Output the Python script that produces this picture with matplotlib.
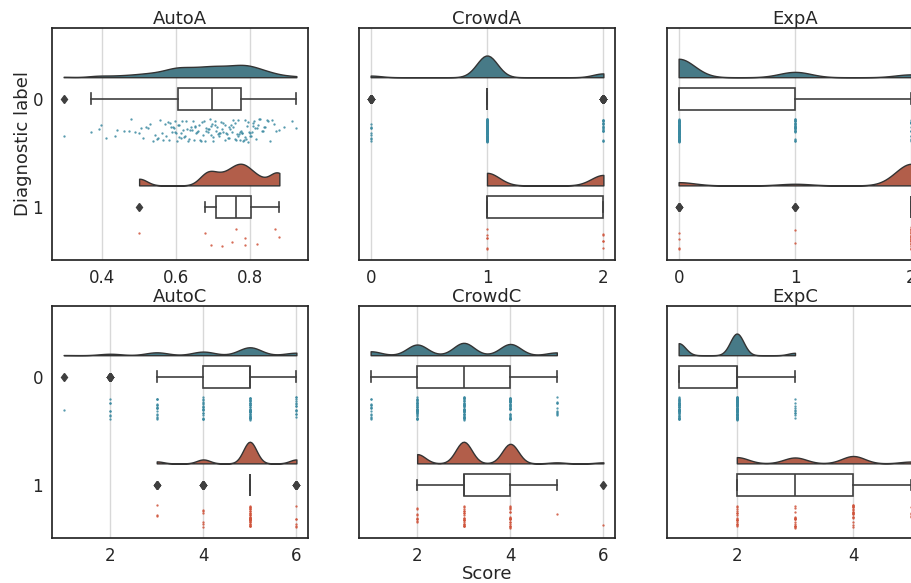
import numpy as np
import matplotlib
matplotlib.use("Agg")
import matplotlib.pyplot as plt

# ---------------- data ----------------
panel_titles = ["AutoA", "CrowdA", "ExpA", "AutoC", "CrowdC", "ExpC"]
group_labels = ["0", "1"]

autoA_0 = [0.295, 0.368, 0.390, 0.395, 0.409, 0.435, 0.440, 0.458, 0.471, 0.476,
           0.487, 0.499, 0.505, 0.510, 0.517, 0.523, 0.528, 0.537, 0.542, 0.546,
           0.551, 0.555, 0.560, 0.564, 0.568, 0.573, 0.577, 0.580, 0.582, 0.585,
           0.588, 0.591, 0.593, 0.595, 0.597, 0.599, 0.601,
           0.603, 0.606, 0.608, 0.611, 0.613, 0.616, 0.618, 0.621, 0.624, 0.626,
           0.629, 0.631, 0.634, 0.636, 0.639, 0.641, 0.644, 0.646, 0.649, 0.651,
           0.654, 0.656, 0.659, 0.661, 0.664, 0.666, 0.669, 0.671, 0.674, 0.676,
           0.679, 0.681, 0.684, 0.686, 0.688, 0.690, 0.692, 0.694,
           0.696, 0.698, 0.700, 0.703, 0.705, 0.707, 0.709, 0.712, 0.714, 0.716,
           0.718, 0.721, 0.723, 0.725, 0.727, 0.730, 0.732, 0.734, 0.736, 0.739,
           0.741, 0.743, 0.745, 0.748, 0.750, 0.752, 0.754, 0.757, 0.759, 0.761,
           0.763, 0.765, 0.767, 0.769, 0.771, 0.773, 0.774,
           0.776, 0.778, 0.780, 0.782, 0.784, 0.786, 0.788, 0.790, 0.792, 0.794,
           0.796, 0.798, 0.800, 0.802, 0.804, 0.806, 0.808, 0.810, 0.812, 0.815,
           0.818, 0.821, 0.824, 0.827, 0.830, 0.833, 0.836, 0.840, 0.844, 0.848,
           0.853, 0.858, 0.863, 0.870, 0.878, 0.890, 0.912, 0.924]
autoA_1 = [0.499, 0.678, 0.693, 0.722, 0.751, 0.761, 0.785, 0.786, 0.818, 0.866, 0.878]

# discrete scores: levels and counts per diagnostic group
crowdA_levels = [0, 1, 2]
crowdA_0_counts = [9, 120, 21]
crowdA_1_counts = [0, 6, 5]

expA_levels = [0, 1, 2]
expA_0_counts = [104, 30, 16]
expA_1_counts = [4, 2, 27]

autoC_levels = [1, 2, 3, 4, 5, 6]
autoC_0_counts = [1, 8, 16, 20, 44, 14]
autoC_1_counts = [0, 0, 3, 6, 33, 6]

crowdC_levels = [1, 2, 3, 4, 5, 6]
crowdC_0_counts = [14, 38, 44, 40, 10, 0]
crowdC_1_counts = [0, 9, 21, 19, 1, 1]

expC_levels = [1, 2, 3, 4, 5]
expC_0_counts = [50, 90, 10, 0, 0]
expC_1_counts = [0, 17, 16, 20, 5]

xticks_list = [[0.4, 0.6, 0.8], [0, 1, 2], [0, 1, 2], [2, 4, 6], [2, 4, 6], [2, 4]]
xticklabels_list = [["0.4", "0.6", "0.8"], ["0", "1", "2"], ["0", "1", "2"],
                    ["2", "4", "6"], ["2", "4", "6"], ["2", "4"]]

# ---------------- helpers ----------------
def expand(levels, counts):
    return np.repeat(np.asarray(levels, float), counts)

def kde(data, n=100):
    data = np.asarray(data, float)
    sd = 0.2 * data.std(ddof=1)
    grid = np.linspace(data.min(), data.max(), n)
    dens = np.exp(-0.5 * ((grid[:, None] - data[None, :]) / sd) ** 2).sum(1)
    dens /= (len(data) * sd * np.sqrt(2 * np.pi))
    return grid, dens

def jitter(n, seed_shift):
    # deterministic scatter of rain points across the strip height
    i = np.arange(n) + 1 + seed_shift
    u = (np.sin(i * 12.9898 + 78.233) * 43758.5453) % 1.0
    return (u - 0.5) * 0.21

panel_data = [
    (np.asarray(autoA_0), np.asarray(autoA_1)),
    (expand(crowdA_levels, crowdA_0_counts), expand(crowdA_levels, crowdA_1_counts)),
    (expand(expA_levels, expA_0_counts), expand(expA_levels, expA_1_counts)),
    (expand(autoC_levels, autoC_0_counts), expand(autoC_levels, autoC_1_counts)),
    (expand(crowdC_levels, crowdC_0_counts), expand(crowdC_levels, crowdC_1_counts)),
    (expand(expC_levels, expC_0_counts), expand(expC_levels, expC_1_counts)),
]

cloud_colors = ["#477a87", "#b25e4a"]
rain_colors = ["#3a89a0", "#d0533a"]
dark = "#3f3f3f"
text_c = "#262626"

W, H = 912, 583
fig = plt.figure(figsize=(W / 100, H / 100), dpi=100)
col_left = [52, 359, 667]
row_top = [28, 306]
aw, ah = 256, 232

for k, (title, (g0, g1)) in enumerate(zip(panel_titles, panel_data)):
    r, c = divmod(k, 3)
    l, t = col_left[c], row_top[r]
    ax = fig.add_axes([l / W, 1 - (t + ah) / H, aw / W, ah / H])
    groups = [g0, g1]
    curves = [kde(g) for g in groups]
    gmax = max(d.max() for _, d in curves)
    for gi, (g, (xs, d)) in enumerate(zip(groups, curves)):
        base = gi - 0.2
        ax.fill_between(xs, base, base - d / gmax * 0.2, facecolor=cloud_colors[gi],
                        edgecolor="#333333", lw=1.0, zorder=2)
        ax.boxplot([g], positions=[gi], widths=0.2, orientation="horizontal",
                   patch_artist=True, whis=1.5, manage_ticks=False,
                   boxprops=dict(facecolor="white", edgecolor=dark, lw=1.2),
                   medianprops=dict(color=dark, lw=1.2),
                   whiskerprops=dict(color=dark, lw=1.2),
                   capprops=dict(color=dark, lw=1.2),
                   flierprops=dict(marker="d", markerfacecolor=dark,
                                   markeredgecolor=dark, markersize=4.5),
                   zorder=3)
        ax.scatter(g, gi + 0.29 + jitter(len(g), 37 * gi + 11 * k), s=2.8,
                   color=rain_colors[gi], lw=0, alpha=0.85, zorder=3)
    ax.set_xticks(xticks_list[k])
    ax.set_xticklabels(xticklabels_list[k])
    lo = min(g0.min(), g1.min())
    hi = max(g0.max(), g1.max())
    pad = 0.05 * (hi - lo)
    ax.set_xlim(lo - pad, hi + pad)
    ax.set_ylim(1.49, -0.655)
    if c == 0:
        ax.set_yticks([0, 1])
        ax.set_yticklabels(group_labels)
    else:
        ax.set_yticks([])
    ax.grid(axis="x", color="#d8d8d8", lw=1.0)
    ax.set_axisbelow(True)
    ax.tick_params(length=0, pad=6.5, labelsize=12, colors=text_c)
    for sp in ax.spines.values():
        sp.set_color(text_c)
        sp.set_linewidth(1.25)
    ax.set_title(title, fontsize=13, pad=3, color=text_c)
    if k == 0:
        ax.set_ylabel("Diagnostic label", fontsize=13, color=text_c, labelpad=0)
    if k == 4:
        ax.set_xlabel("Score", fontsize=13, color=text_c, labelpad=0)

fig.savefig("out.png", dpi=100)
